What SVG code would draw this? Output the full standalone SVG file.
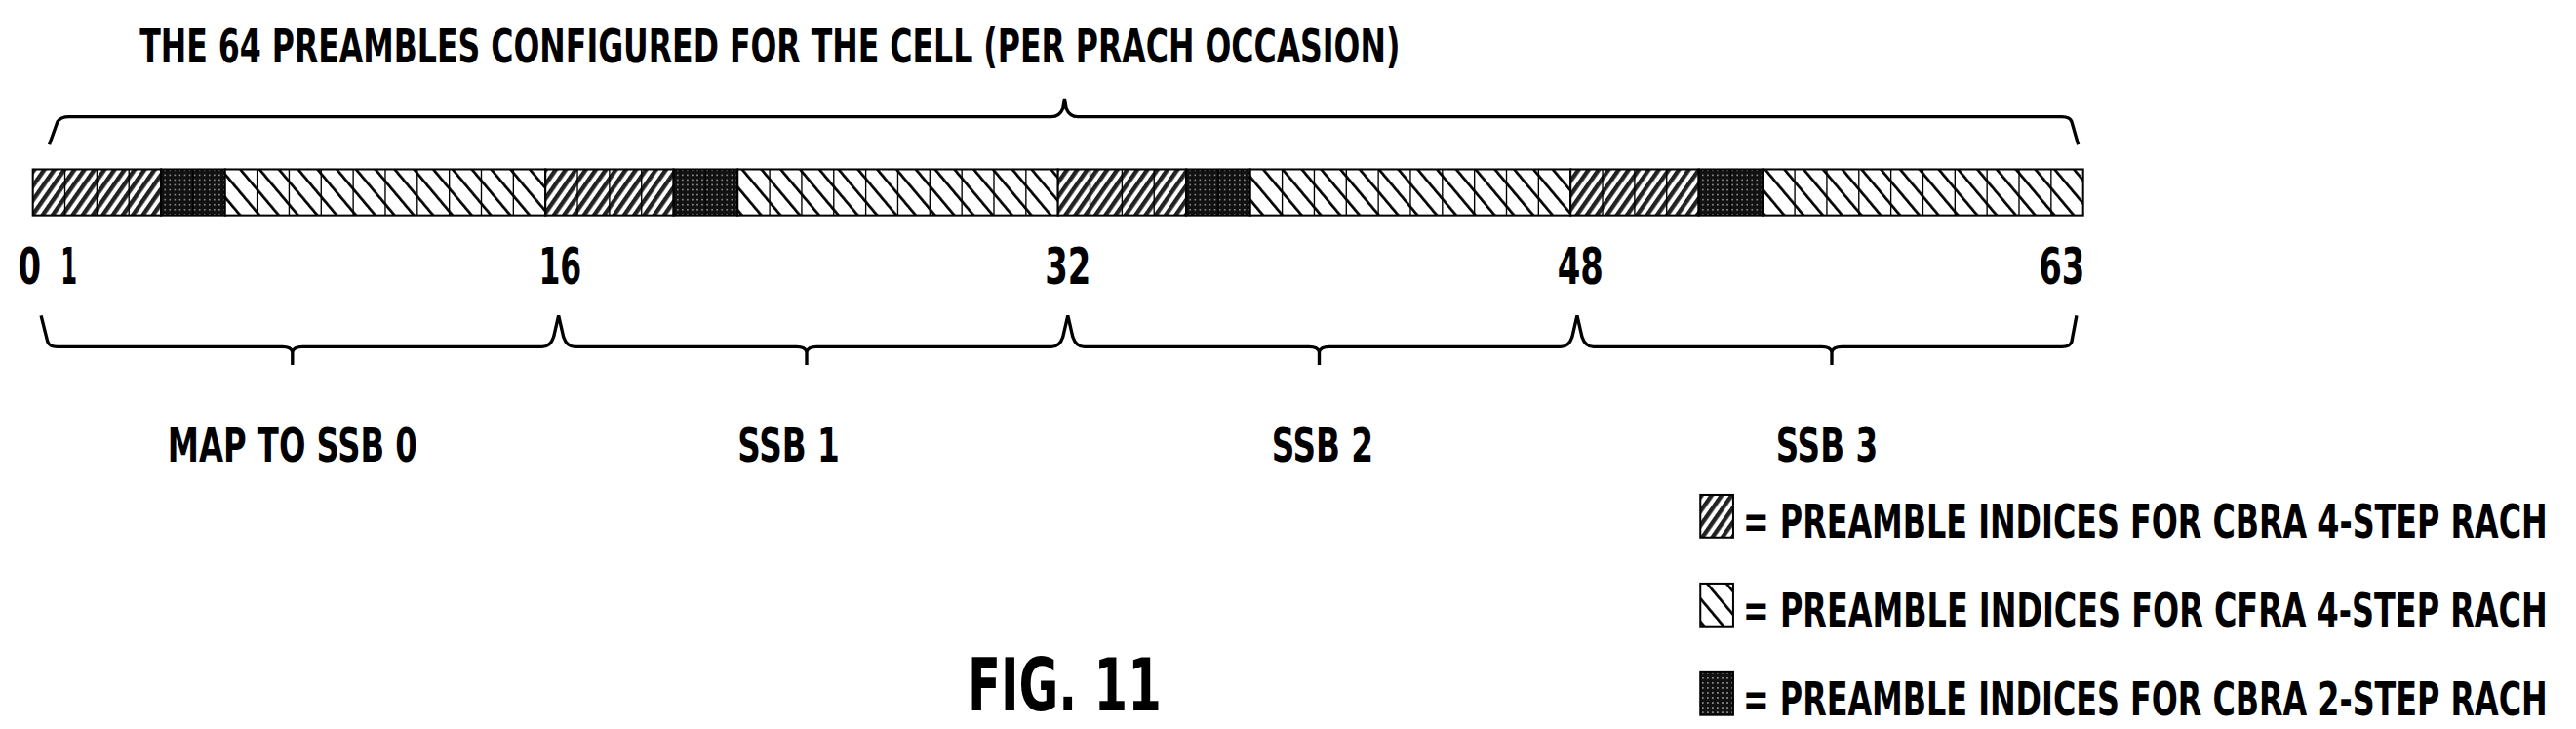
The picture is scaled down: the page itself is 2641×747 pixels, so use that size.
<svg xmlns="http://www.w3.org/2000/svg" width="2641" height="747" viewBox="0 0 2641 747">
<style>
text{font-family:"DejaVu Sans Condensed","DejaVu Sans",sans-serif;font-weight:bold;fill:#000}
.br{fill:none;stroke:#000;stroke-width:2}
.c{stroke:#000;stroke-width:1.2}
</style>
<defs>
<pattern id="fwd" patternUnits="userSpaceOnUse" width="5" height="5" patternTransform="rotate(35)">
<rect width="5" height="5" fill="#fff"/><rect width="2.6" height="5" fill="#222"/></pattern>
<pattern id="bck" patternUnits="userSpaceOnUse" width="9" height="9" patternTransform="rotate(-40)">
<rect width="9" height="9" fill="#fff"/><rect width="1.6" height="9" fill="#000"/></pattern>
<pattern id="dot" patternUnits="userSpaceOnUse" width="3" height="3">
<rect width="3" height="3" fill="#111"/><rect x="1" y="1" width="1" height="1" fill="#888"/></pattern>
</defs>
<rect width="2641" height="747" fill="#fff"/>
<g transform="scale(1.6843)">
<g transform="translate(85,0) scale(0.8,1)">
<text x="0" y="38" font-size="29" textLength="959" lengthAdjust="spacingAndGlyphs">THE 64 PREAMBLES CONFIGURED FOR THE CELL (PER PRACH OCCASION)</text>
</g>
<g id="connectors">
<path class="br" d="M30,88 L35,74 Q37,71 42,71 L640,71 Q645,71 647,66 L648,60 L649,66 Q651,71 656,71 L1255,71 Q1260,71 1261,74 L1265,88"/>
<path class="br" d="M25,192 L29,208 Q30,211 35,211 L172,211 Q177,211 178,214 L178,222 M178,214 Q179,211 184,211 L330,211 Q335,211 337,205 L340,192 L343,205 Q345,211 350,211 L485,211 Q490,211 491,214 L491,222 M491,214 Q492,211 497,211 L640,211 Q645,211 647,205 L650,192 L653,205 Q655,211 660,211 L797,211 Q802,211 803,214 L803,222 M803,214 Q804,211 809,211 L950,211 Q955,211 957,205 L960,192 L963,205 Q965,211 970,211 L1109,211 Q1114,211 1115,214 L1115,222 M1115,214 Q1116,211 1121,211 L1255,211 Q1260,211 1261,208 L1264,192"/>
</g>
<g id="bar">
<rect class="c" x="20" y="103" width="78" height="28" fill="url(#fwd)"/>
<rect class="c" x="98" y="103" width="39" height="28" fill="url(#dot)"/>
<rect class="c" x="137" y="103" width="195" height="28" fill="url(#bck)"/>
<rect class="c" x="332" y="103" width="78" height="28" fill="url(#fwd)"/>
<rect class="c" x="410" y="103" width="39" height="28" fill="url(#dot)"/>
<rect class="c" x="449" y="103" width="195" height="28" fill="url(#bck)"/>
<rect class="c" x="644" y="103" width="78" height="28" fill="url(#fwd)"/>
<rect class="c" x="722" y="103" width="39" height="28" fill="url(#dot)"/>
<rect class="c" x="761" y="103" width="195" height="28" fill="url(#bck)"/>
<rect class="c" x="956" y="103" width="78" height="28" fill="url(#fwd)"/>
<rect class="c" x="1034" y="103" width="39" height="28" fill="url(#dot)"/>
<rect class="c" x="1073" y="103" width="195" height="28" fill="url(#bck)"/>
<path stroke="#000" stroke-width="0.8" d="M39.5,103V131M59,103V131M78.5,103V131M117.5,103V131M156.5,103V131M176,103V131M195.5,103V131M215,103V131M234.5,103V131M254,103V131M273.5,103V131M293,103V131M312.5,103V131
M351.5,103V131M371,103V131M390.5,103V131M429.5,103V131M468.5,103V131M488,103V131M507.5,103V131M527,103V131M546.5,103V131M566,103V131M585.5,103V131M605,103V131M624.5,103V131
M663.5,103V131M683,103V131M702.5,103V131M741.5,103V131M780.5,103V131M800,103V131M819.5,103V131M839,103V131M858.5,103V131M878,103V131M897.5,103V131M917,103V131M936.5,103V131
M975.5,103V131M995,103V131M1014.5,103V131M1053.5,103V131M1092.5,103V131M1112,103V131M1131.5,103V131M1151,103V131M1170.5,103V131M1190,103V131M1209.5,103V131M1229,103V131M1248.5,103V131"/>
</g>
<g id="numbers" font-size="31">
<text x="18" y="173" text-anchor="middle" textLength="14" lengthAdjust="spacingAndGlyphs">0</text>
<text x="42" y="173" text-anchor="middle" textLength="10" lengthAdjust="spacingAndGlyphs">1</text>
<text x="341" y="173" text-anchor="middle" textLength="26" lengthAdjust="spacingAndGlyphs">16</text>
<text x="650" y="173" text-anchor="middle" textLength="28" lengthAdjust="spacingAndGlyphs">32</text>
<text x="962" y="173" text-anchor="middle" textLength="28" lengthAdjust="spacingAndGlyphs">48</text>
<text x="1255" y="173" text-anchor="middle" textLength="28" lengthAdjust="spacingAndGlyphs">63</text>
</g>
<g id="labels" font-size="29">
<text x="178" y="281" text-anchor="middle" textLength="152" lengthAdjust="spacingAndGlyphs">MAP TO SSB 0</text>
<text x="480" y="281" text-anchor="middle" textLength="62" lengthAdjust="spacingAndGlyphs">SSB 1</text>
<text x="805" y="281" text-anchor="middle" textLength="62" lengthAdjust="spacingAndGlyphs">SSB 2</text>
<text x="1112" y="281" text-anchor="middle" textLength="62" lengthAdjust="spacingAndGlyphs">SSB 3</text>
</g>
<g id="legend" font-size="29">
<rect class="c" x="1035" y="301" width="20" height="26" fill="url(#fwd)"/>
<rect class="c" x="1035" y="355" width="20" height="26" fill="url(#bck)"/>
<rect class="c" x="1035" y="409" width="20" height="26" fill="url(#dot)"/>
<g transform="translate(1061,0) scale(0.72,1)">
<text x="0" y="327" textLength="680" lengthAdjust="spacingAndGlyphs">= PREAMBLE INDICES FOR CBRA 4-STEP RACH</text>
<text x="0" y="381" textLength="680" lengthAdjust="spacingAndGlyphs">= PREAMBLE INDICES FOR CFRA 4-STEP RACH</text>
<text x="0" y="435" textLength="680" lengthAdjust="spacingAndGlyphs">= PREAMBLE INDICES FOR CBRA 2-STEP RACH</text>
</g>
</g>
<text x="648" y="432" font-size="44" text-anchor="middle" textLength="118" lengthAdjust="spacingAndGlyphs">FIG. 11</text>
</g>
</svg>
